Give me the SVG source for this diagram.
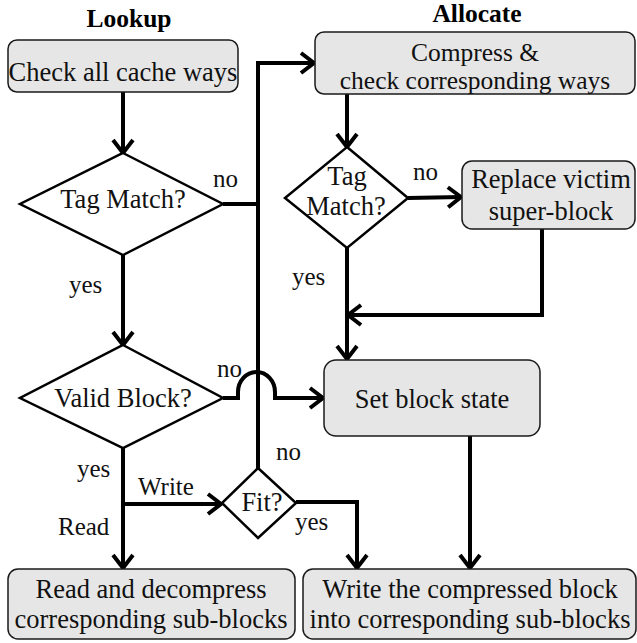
<svg xmlns="http://www.w3.org/2000/svg" width="637" height="643" viewBox="0 0 637 643">
<style>
.box{fill:#e6e6e6;stroke:#1a1a1a;stroke-width:1.5}
.dia{fill:#fff;stroke:#000;stroke-width:2.5;stroke-linejoin:miter}
.t{font-family:"Liberation Serif","Times New Roman",serif;font-size:26.5px;fill:#111;text-anchor:middle}
.t2{font-family:"Liberation Serif","Times New Roman",serif;font-size:25.5px;fill:#111;text-anchor:middle}
.lbl{font-family:"Liberation Serif","Times New Roman",serif;font-size:25px;fill:#111}
.ttl{font-family:"Liberation Serif","Times New Roman",serif;font-size:25.5px;font-weight:bold;fill:#000;text-anchor:middle}
.c{fill:none;stroke:#000;stroke-width:4;stroke-linejoin:miter}
</style>
<defs>
<marker id="arr" markerUnits="userSpaceOnUse" markerWidth="30" markerHeight="30" viewBox="-20 -15 30 30" refX="0" refY="0" orient="auto" overflow="visible">
<path d="M-13,-10 L0,0 L-13,10" fill="none" stroke="#000" stroke-width="4" stroke-linejoin="miter"/>
</marker>
</defs>

<text class="ttl" x="129" y="27">Lookup</text>
<text class="ttl" x="477" y="22">Allocate</text>

<g id="connectors">
<path class="c" d="M123,92 V153" marker-end="url(#arr)"/>
<path class="c" d="M223,204 H258"/>
<path class="c" d="M258,468 V63 H314" marker-end="url(#arr)"/>
<path class="c" d="M123,255 V345" marker-end="url(#arr)"/>
<path class="c" d="M223,398 H238 V392 A18.5,20 0 0 1 275,392 V398 H323" marker-end="url(#arr)"/>
<path class="c" d="M123,448 V568" marker-end="url(#arr)"/>
<path class="c" d="M123,504 H221" marker-end="url(#arr)"/>
<path class="c" d="M296,502 H357 V568" marker-end="url(#arr)"/>
<path class="c" d="M347,94 V147" marker-end="url(#arr)"/>
<path class="c" d="M408,198 L461,197" marker-end="url(#arr)"/>
<path class="c" d="M347,248 V359" marker-end="url(#arr)"/>
<path class="c" d="M542,229 V315 H348" marker-end="url(#arr)"/>
<path class="c" d="M470,436 V568" marker-end="url(#arr)"/>
</g>

<g id="labels">
<text class="lbl" x="213" y="187">no</text>
<text class="lbl" x="69" y="293">yes</text>
<text class="lbl" x="413" y="180">no</text>
<text class="lbl" x="292" y="285">yes</text>
<text class="lbl" x="217" y="377">no</text>
<text class="lbl" x="276" y="460">no</text>
<text class="lbl" x="77" y="477">yes</text>
<text class="lbl" x="138" y="495">Write</text>
<text class="lbl" x="58" y="535">Read</text>
<text class="lbl" x="295" y="530">yes</text>
</g>

<g id="check-ways">
<rect class="box" x="8" y="40" width="230" height="52" rx="9"/>
<text class="t" x="123" y="81">Check all cache ways</text>
</g>

<g id="tag-match-1">
<polygon class="dia" points="123,153 223,204 123,255 20,204"/>
<text class="t" x="123" y="208">Tag Match?</text>
</g>

<g id="valid-block">
<polygon class="dia" points="123,345 223,398 123,448 20,398"/>
<text class="t" x="123" y="407">Valid Block?</text>
</g>

<g id="fit">
<polygon class="dia" points="258,468 296,503 258,538 222,503"/>
<text class="t" x="262" y="511">Fit?</text>
</g>

<g id="compress">
<rect class="box" x="315" y="32" width="320" height="62" rx="9"/>
<text class="t2" x="475" y="61">Compress &amp;</text>
<text class="t2" x="475" y="89">check corresponding ways</text>
</g>

<g id="tag-match-2">
<polygon class="dia" points="347,147 408,198 347,248 285,198"/>
<text class="t" x="347" y="185">Tag</text>
<text class="t" x="346" y="215">Match?</text>
</g>

<g id="replace">
<rect class="box" x="462" y="161" width="173" height="68" rx="10"/>
<text class="t" x="551" y="188">Replace victim</text>
<text class="t" x="551" y="220">super-block</text>
</g>

<g id="set-state">
<rect class="box" x="324" y="360" width="216" height="76" rx="12"/>
<text class="t" x="432" y="408">Set block state</text>
</g>

<g id="read-box">
<rect class="box" x="8" y="569" width="287" height="70" rx="10"/>
<text class="t" x="151" y="598">Read and decompress</text>
<text class="t" x="151" y="628">corresponding sub-blocks</text>
</g>

<g id="write-box">
<rect class="box" x="303" y="569" width="333" height="70" rx="10"/>
<text class="t" x="470" y="598">Write the compressed block</text>
<text class="t" x="470" y="628">into corresponding sub-blocks</text>
</g>
</svg>
